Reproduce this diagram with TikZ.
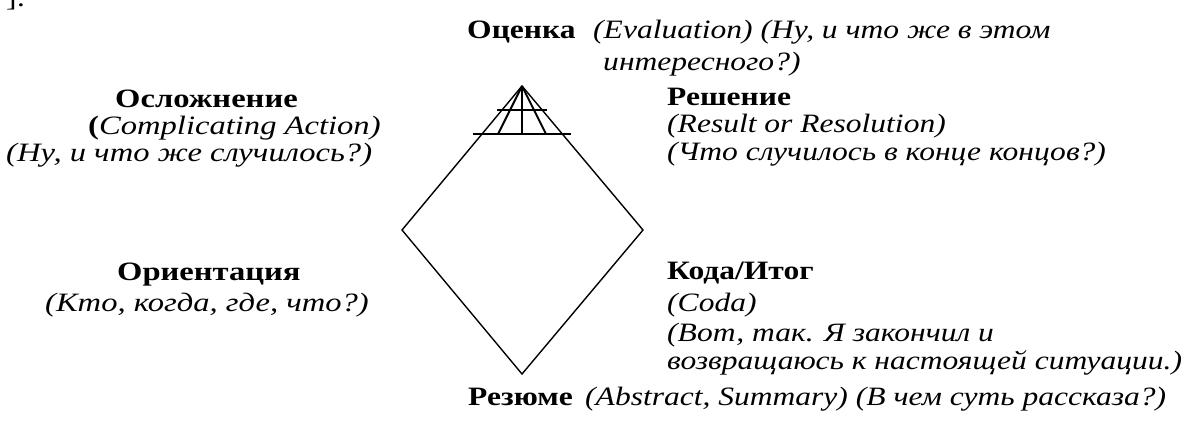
\documentclass[tikz,border=0pt]{standalone}
\usepackage{fontspec}
\setmainfont{Liberation Serif}
\tikzset{
  txt/.style={anchor=base west, inner sep=0pt, xscale=1.19, font=\fontsize{26.5}{31}\selectfont},
  head/.style={txt, font=\fontsize{26.5}{31}\selectfont\bfseries},
  note/.style={txt, font=\fontsize{26.5}{31}\selectfont\itshape},
  wide/.style={xscale=1.23/1.19},
  edge/.style={line width=1.4pt, line join=miter},
  hatch/.style={line width=2pt},
}
\begin{document}
\begin{tikzpicture}[x=1pt, y=-1pt]
\useasboundingbox (0,0) rectangle (1192,424);

% end of the preceding line
\node[txt] (frag) at (6,6) {]:};

% the diamond
\coordinate (top) at (522,86);
\coordinate (left) at (402,230);
\coordinate (right) at (643,230);
\coordinate (bot) at (522,374);
\draw[edge] (top) -- (right) -- (bot) -- (left) -- cycle;

% hatching at the apex
\coordinate (h1l) at (497,110);
\coordinate (h1r) at (547,110);
\coordinate (h2l) at (473,134);
\coordinate (h2r) at (571,134);
\coordinate (r1) at (498,134);
\coordinate (r2) at (522,134);
\coordinate (r3) at (546,134);
\draw[hatch] (h1l) -- (h1r);
\draw[hatch] (h2l) -- (h2r);
\draw[hatch] (top) -- (r1);
\draw[hatch] (top) -- (r2);
\draw[hatch] (top) -- (r3);

% Evaluation
\node[head] (evalh) at (467,38) {Оценка};
\node[note] (evalt) at (593,38) {(Evaluation) (Ну, и что же в этом};
\node[note] (evalu) at (603,70) {интересного?)};

% Complicating action
\node[head, wide] (comph) at (115,107) {Осложнение};
\node[note, wide] (compt) at (88,134) {\textbf{\upshape(}Complicating Action)};
\node[note, wide] (compu) at (6,161) {(Ну, и что же случилось?)};

% Resolution
\node[head] (resh) at (667,105) {Решение};
\node[note] (rest) at (667,132) {(Result or Resolution)};
\node[note] (resu) at (667,160) {(Что случилось в конце концов?)};

% Orientation
\node[head, wide] (orih) at (117,280) {Ориентация};
\node[note, wide] (orit) at (45,311) {(Кто, когда, где, что?)};

% Coda
\node[head] (codah) at (667,279) {Кода/Итог};
\node[note] (codat) at (667,311) {(Coda)};
\node[note] (codau) at (667,341) {(Вот, так. Я закончил и};
\node[note] (codav) at (667,369) {возвращаюсь к настоящей ситуации.)};

% Abstract
\node[head] (absh) at (468,405) {Резюме};
\node[note] (abst) at (585,405) {(Abstract, Summary) (В чем суть рассказа?)};
\end{tikzpicture}
\end{document}
